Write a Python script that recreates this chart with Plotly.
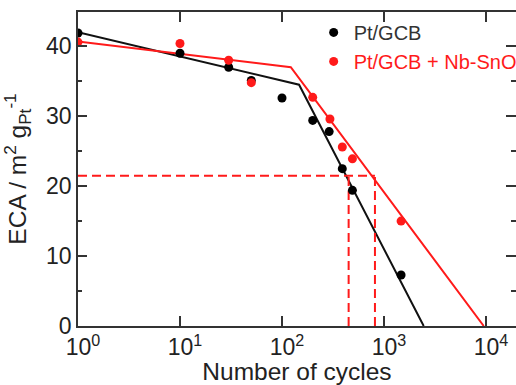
import plotly.graph_objects as go

# Data
cycles_pt = [1, 10, 30, 50, 100, 200, 290, 390, 490, 1470]
eca_pt = [41.9, 39.0, 37.0, 35.1, 32.6, 29.4, 27.8, 22.5, 19.4, 7.3]

cycles_nb = [1, 10, 30, 50, 200, 295, 390, 490, 1470]
eca_nb = [40.6, 40.4, 38.0, 34.8, 32.7, 29.6, 25.6, 23.9, 15.0]

fit_pt_x = [1, 147, 2450]
fit_pt_y = [42.0, 34.5, 0]
fit_nb_x = [1, 122, 9500]
fit_nb_y = [40.7, 37.0, 0]

guide_y = 21.5
guide_x = [450, 815]

xtick_vals = [1, 10, 100, 1000, 10000]
xtick_text = ["10<sup>0</sup>", "10<sup>1</sup>", "10<sup>2</sup>", "10<sup>3</sup>", "10<sup>4</sup>"]
ytick_vals = [0, 10, 20, 30, 40]
ytick_minor = [5, 15, 25, 35]

RED = "#ff1a1a"
BLACK = "#111111"
FONT = "Liberation Sans"

fig = go.Figure()

# fit lines
fig.add_trace(go.Scatter(x=fit_pt_x, y=fit_pt_y, mode="lines",
                         line=dict(color=BLACK, width=2), showlegend=False, hoverinfo="skip"))
fig.add_trace(go.Scatter(x=fit_nb_x, y=fit_nb_y, mode="lines",
                         line=dict(color=RED, width=2), showlegend=False, hoverinfo="skip"))

# dashed guides
fig.add_trace(go.Scatter(x=[1, guide_x[1]], y=[guide_y, guide_y], mode="lines",
                         line=dict(color=RED, width=2, dash="9px,5px"), showlegend=False))
for gx in guide_x:
    fig.add_trace(go.Scatter(x=[gx, gx], y=[0, guide_y], mode="lines",
                             line=dict(color=RED, width=2, dash="9px,5px"), showlegend=False))

# points
fig.add_trace(go.Scatter(x=cycles_pt, y=eca_pt, mode="markers", name="<span style='color:#333'>Pt/GCB</span>",
                         marker=dict(color="black", size=9)))
fig.add_trace(go.Scatter(x=cycles_nb, y=eca_nb, mode="markers",
                         name="<span style='color:#ff1a1a'>Pt/GCB + Nb-SnO<sub>2</sub></span>",
                         marker=dict(color=RED, size=9)))

axis_col = "#333333"
fig.update_layout(
    width=516, height=385,
    margin=dict(l=78, r=0, t=12, b=59, autoexpand=False),
    paper_bgcolor="white", plot_bgcolor="white",
    font=dict(family=FONT, size=23, color="#222"),
    showlegend=True,
    legend=dict(x=0.538, y=0.997, xanchor="left", yanchor="top",
                bgcolor="rgba(0,0,0,0)", font=dict(size=20),
                itemwidth=30, tracegroupgap=0),
    xaxis=dict(type="log", range=[0, 4.294], tickvals=xtick_vals, ticktext=xtick_text,
               ticks="inside", ticklen=10, tickwidth=1.5, tickcolor=axis_col,
               ticklabelshift=5,
               showline=True, linecolor=axis_col, linewidth=1.5, mirror="ticks",
               showgrid=False, zeroline=False, automargin=False,
               title=dict(text="Number of cycles", font=dict(size=24.5))),
    yaxis=dict(range=[0, 44.9], tickvals=ytick_vals,
               ticks="inside", ticklen=9, tickwidth=1.5, tickcolor=axis_col,
               minor=dict(tickvals=ytick_minor, ticks="inside", ticklen=4, tickcolor=axis_col, tickwidth=1.5),
               showline=True, linecolor=axis_col, linewidth=1.5, mirror=False,
               showgrid=False, zeroline=False, automargin=False,
               title=dict(text="ECA / m<sup>2</sup> g<sub>Pt</sub><sup>-1</sup>", font=dict(size=24.5))),
    yaxis2=dict(overlaying="y", side="right", matches="y", range=[0, 44.9], tickvals=ytick_vals,
                ticks="inside", ticklen=10, tickwidth=1.5, tickcolor=axis_col,
                minor=dict(tickvals=ytick_minor, ticks="inside", ticklen=5, tickcolor=axis_col, tickwidth=1.5),
                showticklabels=False, showline=False, showgrid=False, zeroline=False, automargin=False),
)
# invisible trace to activate yaxis2
fig.add_trace(go.Scatter(x=[1], y=[0], yaxis="y2", mode="markers", marker=dict(opacity=0),
                         showlegend=False, hoverinfo="skip"))

fig.write_html("out.html")
